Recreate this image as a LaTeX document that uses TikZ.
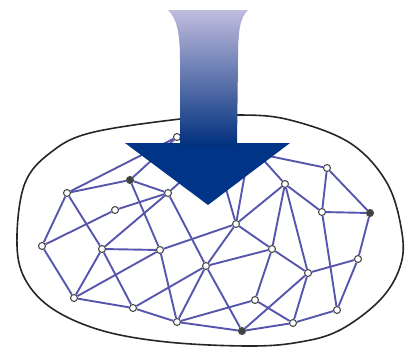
\documentclass[tikz,border=0pt]{standalone}
\definecolor{linkblue}{RGB}{86,86,172}
\definecolor{arrowtop}{RGB}{192,188,222}
\definecolor{arrowmid}{RGB}{104,104,168}
\definecolor{arrowbottom}{RGB}{0,52,135}
\begin{document}
\begin{tikzpicture}[
    x=1pt, y=-1pt,
    site/.style={circle, draw=black!70, fill=white, line width=1.1pt, inner sep=0pt, minimum size=7pt},
    site_dark/.style={site, fill=black!75},
    link/.style={draw=linkblue, line width=1.9pt}
]
\useasboundingbox (0,0) rectangle (407,349);

% outline of the region
\draw[black!85, line width=1.6pt] plot[smooth cycle, tension=0.6] coordinates {
    (17,235) (23,275) (50,307) (100,330) (167,342) (250,346) (300,342) (340,330)
    (380,300) (400,267) (402,233) (387,183) (350,143) (290,120) (240,115) (180,119)
    (90,133) (50,153) (25,183)};

\node (peer_a) [site] at (67,193) {};
\node (peer_b) [site_dark] at (130,180) {};
\node (peer_c) [site] at (115,210) {};
\node (peer_d) [site] at (42,246) {};
\node (peer_e) [site] at (102,249) {};
\node (peer_f) [site] at (160,250) {};
\node (peer_g) [site] at (74,298) {};
\node (peer_h) [site] at (133,308) {};
\node (peer_i) [site] at (168,193) {};
\node (peer_j) [site] at (177,137) {};
\node (peer_k) [site] at (177,322) {};
\node (peer_l) [site] at (206,266) {};
\node (peer_m) [site] at (236,224) {};
\node (peer_n) [site] at (272,249) {};
\node (peer_o) [site] at (255,300) {};
\node (peer_p) [site_dark] at (242,331) {};
\node (peer_q) [site] at (327,168) {};
\node (peer_r) [site] at (285,184) {};
\node (peer_s) [site] at (322,212) {};
\node (peer_t) [site_dark] at (370,213) {};
\node (peer_u) [site] at (308,273) {};
\node (peer_v) [site] at (358,259) {};
\node (peer_w) [site] at (337,310) {};
\node (peer_x) [site] at (293,323) {};

% ends hidden below the arrow
\coordinate (under_head) at (250,145);
\coordinate (under_shaft) at (215,150);

\draw[link] (peer_a) -- (peer_b);
\draw[link] (peer_a) -- (peer_j);
\draw[link] (peer_a) -- (peer_d);
\draw[link] (peer_a) -- (peer_e);
\draw[link] (peer_b) -- (peer_i);
\draw[link] (peer_b) -- (peer_f);
\draw[link] (peer_b) -- (peer_j);
\draw[link] (peer_d) -- (peer_c);
\draw[link] (peer_c) -- (peer_i);
\draw[link] (peer_e) -- (peer_i);
\draw[link] (peer_e) -- (peer_f);
\draw[link] (peer_e) -- (peer_g);
\draw[link] (peer_e) -- (peer_h);
\draw[link] (peer_d) -- (peer_g);
\draw[link] (peer_g) -- (peer_f);
\draw[link] (peer_g) -- (peer_h);
\draw[link] (peer_h) -- (peer_k);
\draw[link] (peer_h) -- (peer_l);
\draw[link] (peer_f) -- (peer_k);
\draw[link] (peer_f) -- (peer_m);
\draw[link] (peer_i) -- (peer_l);
\draw[link] (peer_m) -- (peer_l);
\draw[link] (peer_m) -- (peer_n);
\draw[link] (peer_m) -- (peer_r);
\draw[link] (peer_l) -- (peer_n);
\draw[link] (peer_l) -- (peer_k);
\draw[link] (peer_l) -- (peer_p);
\draw[link] (peer_k) -- (peer_o);
\draw[link] (peer_k) -- (peer_p);
\draw[link] (peer_n) -- (peer_o);
\draw[link] (peer_o) -- (peer_x);
\draw[link] (peer_p) -- (peer_u);
\draw[link] (peer_p) -- (peer_x);
\draw[link] (peer_n) -- (peer_u);
\draw[link] (peer_r) -- (peer_s);
\draw[link] (peer_r) -- (peer_n);
\draw[link] (peer_r) -- (peer_u);
\draw[link] (peer_q) -- (peer_s);
\draw[link] (peer_q) -- (peer_t);
\draw[link] (peer_s) -- (peer_t);
\draw[link] (peer_s) -- (peer_w);
\draw[link] (peer_t) -- (peer_v);
\draw[link] (peer_u) -- (peer_v);
\draw[link] (peer_v) -- (peer_w);
\draw[link] (peer_w) -- (peer_x);
\draw[link] (peer_u) -- (peer_x);
\draw[link] (peer_j) -- (peer_q);
\draw[link] (under_head) -- (peer_r);
\draw[link] (under_head) -- (peer_m);
\draw[link] (under_shaft) -- (peer_i);
\draw[link] (under_shaft) -- (peer_m);

% big arrow on top: solid head, shaded shaft
\fill[arrowbottom] (125,143) -- (290,143) -- (208,205) -- cycle;
\path[top color=arrowtop, middle color=arrowmid, bottom color=arrowbottom!92!black]
    (168,10) -- (248,10) .. controls (240,18) and (238,30) .. (238,60)
    -- (237,146) -- (180,146)
    -- (180,60) .. controls (180,30) and (176,18) .. (168,10) -- cycle;
\end{tikzpicture}
\end{document}
